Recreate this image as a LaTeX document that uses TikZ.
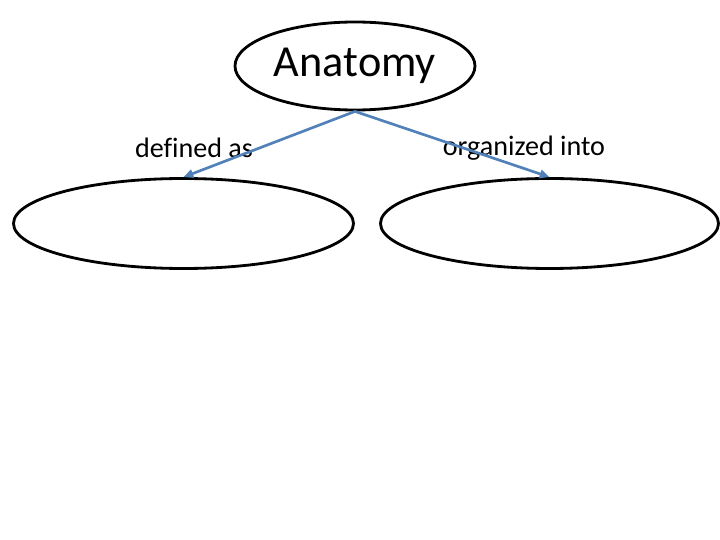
\documentclass[tikz,border=0pt]{standalone}
\usepackage{fontspec}
\setmainfont[Ligatures=CommonOff]{Carlito}
\definecolor{linkblue}{HTML}{5181B8}
\usetikzlibrary{arrows.meta, shapes.geometric}

\begin{document}
\begin{tikzpicture}[
  concept/.style={ellipse, draw=black, line width=2pt, inner sep=0pt},
  link/.style={font=\fontsize{20}{24}\selectfont, inner sep=0pt},
]
  \useasboundingbox (0,0) rectangle (18,13.5);

  \node[concept, minimum width=6cm, minimum height=2.2cm,
        font=\fontsize{31.5}{36}\selectfont] (anatomy) at (8.875,11.85) {Anatomy};
  \node[concept, minimum width=8.5cm, minimum height=2.25cm] (def) at (4.5875,7.9125) {};
  \node[concept, minimum width=8.45cm, minimum height=2.25cm] (org) at (13.7375,7.9125) {};

  \node[link] (deflabel) at (4.85,9.8) {defined as};
  \node[link] (orglabel) at (13.1,9.8) {organized into};

  % Arrows
  \draw[-{Triangle[length=7pt,width=6pt]}, line width=1.9pt, linkblue] (anatomy.south) -- (def.north);
  \draw[-{Triangle[length=7pt,width=6pt]}, line width=1.9pt, linkblue] (anatomy.south) -- (org.north);
\end{tikzpicture}
\end{document}
